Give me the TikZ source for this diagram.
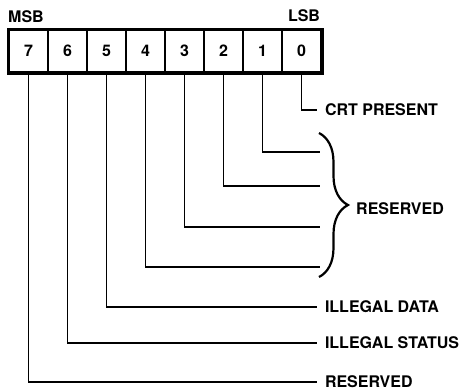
\documentclass[tikz,border=0pt]{standalone}
\usepackage{fontspec}
\setmainfont{TeX Gyre Heros}
\usetikzlibrary{decorations.pathreplacing}

\begin{document}
\begin{tikzpicture}[x=1pt,y=-1pt,
  every node/.style={font=\fontsize{16}{18}\selectfont\bfseries},
  bitcell/.style={draw,line width=1.5pt,minimum width=39pt,minimum height=42pt,inner sep=0pt},
  lbl/.style={anchor=west,inner sep=0pt,outer sep=8pt},
  wire/.style={line width=1.4pt}]
\useasboundingbox (0,0) rectangle (466,391);

% register bits
\foreach \i in {0,...,7}
  \node[bitcell] (b\i) at ({28.5+39*(7-\i)},51) {\i};
\draw[line width=3.5pt] (b7.north west) rectangle (b0.south east);
\node (msb) at (26,17) {MSB};
\node (lsb) at (304,16) {LSB};

% labels
\node[lbl] (crt) at (317,110) {CRT PRESENT};
\node[lbl] (idata) at (317,307) {ILLEGAL DATA};
\node[lbl] (istat) at (317,343) {ILLEGAL STATUS};
\node[lbl] (resv) at (317,382) {RESERVED};

\coordinate (r1) at (320,152);
\coordinate (r2) at (320,186);
\coordinate (r3) at (320,227);
\coordinate (r4) at (320,267);

\draw[wire] (b0.south) |- (crt.west);
\draw[wire] (b1.south) |- (r1);
\draw[wire] (b2.south) |- (r2);
\draw[wire] (b3.south) |- (r3);
\draw[wire] (b4.south) |- (r4);
\draw[wire] (b5.south) |- (idata.west);
\draw[wire] (b6.south) |- (istat.west);
\draw[wire] (b7.south) |- (resv.west);

% brace over bits 1-4
\coordinate (bt) at (319,133);
\coordinate (bb) at (319,277);
\draw[decorate,decoration={brace,amplitude=29pt},line width=2.2pt] (bt) -- (bb);
\node[anchor=west,inner sep=0pt] (rsvb) at (356,209) {RESERVED};
\end{tikzpicture}
\end{document}
